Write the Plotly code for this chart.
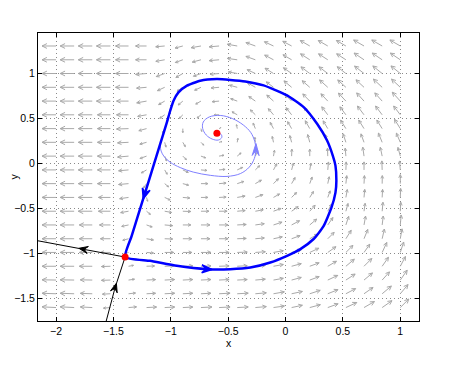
import math
import plotly.graph_objects as go

# ---------------- data ----------------
X_GRID = [-2.0, -1.842, -1.684, -1.526, -1.368, -1.211, -1.053, -0.895, -0.737, -0.579,
          -0.421, -0.263, -0.105, 0.053, 0.211, 0.368, 0.526, 0.684, 0.842, 1.0]
Y_GRID = [-1.6, -1.447, -1.295, -1.142, -0.989, -0.837, -0.684, -0.532, -0.379, -0.226,
          -0.074, 0.079, 0.232, 0.384, 0.537, 0.689, 0.842, 0.995, 1.147, 1.3]

# arrow directions (degrees as seen on the page), rows listed from top (y=1.3) to bottom (y=-1.6)
ANGLE_TOP_DOWN = [
    [180,180,180,180,180,180,185,195,190,185,170,160,155,152,150,150,150,150,150,150],
    [180,180,180,180,180,180,190,200,195,185,172,160,152,150,147,147,147,146,146,146],
    [180,180,180,180,180,185,200,210,200,185,170,155,148,145,143,143,142,142,141,141],
    [180,180,180,180,180,185,205,215,205,185,165,150,143,140,139,138,138,137,137,137],
    [180,180,180,180,180,190,210,220,210,185,160,145,138,135,134,133,133,132,132,132],
    [180,180,180,180,180,190,215,225,220,180,150,135,130,128,127,127,127,127,127,127],
    [180,180,180,180,182,195,245,270,285, 30,100,112,118,120,120,121,122,122,122,122],
    [180,180,180,180,183,195,285,300,315, 15, 80, 95,102,105,105,107,108,110,112,113],
    [180,180,180,180,185,200,290,315,340, 10, 40, 65, 80, 88, 90, 92, 95, 98,102,105],
    [180,180,180,180,185,210,300,335,355,  5, 25, 45, 62, 75, 80, 85, 88, 90, 92, 95],
    [180,180,180,180,185,235,320,345,  0,  5, 18, 30, 45, 60, 70, 78, 84, 87, 89, 90],
    [180,180,180,180,188,285,335,355,  0,  3, 10, 20, 30, 45, 58, 70, 80, 85, 87, 88],
    [180,180,180,180,190,320,350,358,  0,  0,  5, 10, 20, 35, 48, 62, 75, 82, 85, 87],
    [180,180,180,180,192,340,355,  0,  0,  0,  3,  8, 18, 28, 40, 55, 72, 80, 83, 85],
    [180,180,180,180,195,350,358,  0,  0,  0,  2,  5, 12, 20, 30, 45, 58, 68, 77, 80],
    [180,180,180,180,200,355,  0,  0,  0,  0,  2,  4, 10, 15, 25, 35, 45, 55, 65, 72],
    [180,180,180,182, 10,  2,  2,  2,  2,  2,  3,  5, 10, 15, 20, 30, 40, 45, 55, 62],
    [179,179,179,182,  8,  3,  3,  3,  3,  3,  3,  5, 10, 15, 20, 25, 33, 40, 48, 55],
    [178,178,178,183,  6,  3,  3,  3,  3,  3,  3,  5, 10, 12, 18, 22, 28, 35, 40, 50],
    [177,177,177,185,  5,  3,  3,  3,  3,  3,  3,  5,  8, 12, 15, 20, 25, 30, 35, 45],
]
# relative arrow magnitude, same layout
SPEED_TOP_DOWN = [
    [14,14,14,14,13,11, 9, 8,10,10,10,10,10,10,11,11,11,12,12,12],
    [14,14,14,14,13,11, 9, 8, 9,10,10,10,10,10,11,11,11,12,12,12],
    [14,14,14,14,13,11, 9, 8, 8, 9, 9, 9,10,10,11,11,11,12,12,12],
    [14,14,14,14,13,10, 8, 7, 7, 8, 8, 9, 9,10,10,11,11,11,12,12],
    [14,14,14,14,12,10, 7, 6, 6, 7, 7, 8, 9, 9,10,10,11,11,11,12],
    [14,14,14,13,12, 9, 6, 5, 5, 5, 6, 7, 8, 9, 9,10,10,11,11,11],
    [14,14,14,13,12, 8, 5, 4, 3, 2, 4, 6, 7, 8, 9, 9,10,10,10,11],
    [14,14,14,13,11, 7, 5, 5, 4, 3, 4, 5, 6, 7, 8, 8, 9, 9,10,10],
    [14,14,14,13,11, 7, 5, 5, 5, 5, 5, 6, 6, 7, 7, 8, 8, 9, 9, 9],
    [14,14,14,13,10, 6, 5, 6, 6, 6, 6, 6, 7, 7, 7, 8, 8, 8, 9, 9],
    [14,14,14,13,10, 5, 5, 6, 7, 7, 7, 7, 7, 7, 7, 7, 8, 8, 8, 9],
    [14,14,14,12, 9, 4, 6, 7, 7, 7, 8, 8, 7, 7, 7, 7, 8, 8, 8, 9],
    [14,14,14,12, 8, 5, 7, 8, 8, 8, 8, 8, 8, 8, 8, 8, 8, 8, 9, 9],
    [14,14,13,11, 7, 6, 8, 8, 9, 9, 9, 9, 9, 9, 9, 9, 9, 9, 9,10],
    [14,14,13,10, 6, 7, 8, 9, 9, 9, 9, 9, 9, 9, 9, 9,10,10,10,10],
    [14,14,13,10, 3, 7, 9, 9,10,10,10,10,10,10,10,10,10,10,11,11],
    [14,14,13, 9, 5, 8, 9,10,10,10,10,10,10,10,10,10,11,11,11,11],
    [14,14,12, 9, 6, 9,10,10,10,10,10,10,10,10,10,11,11,11,11,12],
    [14,14,12, 8, 7, 9,10,10,10,11,11,11,11,11,11,11,11,11,12,12],
    [14,14,12, 7, 8,10,10,10,11,11,11,11,11,11,11,11,12,12,12,12],
]

# thick blue orbit (leaves the saddle to the right, comes back from above)
ORBIT_X = [-1.398, -1.180, -0.947, -0.685, -0.482, -0.307, -0.133, 0.013, 0.129, 0.245,
           0.330, 0.400, 0.435, 0.443, 0.435, 0.413, 0.362, 0.275, 0.158, 0.013,
           -0.191, -0.351, -0.482, -0.598, -0.743, -0.859, -0.933, -0.976, -1.005, -1.034,
           -1.092, -1.166, -1.227, -1.288, -1.342, -1.398]
ORBIT_Y = [-1.040, -1.082, -1.137, -1.174, -1.174, -1.156, -1.100, -1.026, -0.952, -0.840,
           -0.700, -0.493, -0.326, -0.193, -0.026, 0.080, 0.252, 0.437, 0.622, 0.752,
           0.863, 0.907, 0.924, 0.933, 0.915, 0.860, 0.785, 0.693, 0.582, 0.452,
           0.214, -0.090, -0.340, -0.590, -0.810, -1.040]
ORBIT_ARROWS = [3, 32]

# light blue trajectory spiralling into the focus
SPIRAL_X = [-1.092, -1.084, -1.058, -1.005, -0.918, -0.804, -0.656, -0.510, -0.394, -0.316,
            -0.272, -0.259, -0.268, -0.303, -0.368, -0.464, -0.569, -0.665, -0.717, -0.722,
            -0.691, -0.639, -0.586, -0.556, -0.560, -0.586]
SPIRAL_Y = [0.196, 0.135, 0.074, 0.011, -0.048, -0.098, -0.134, -0.146, -0.115, -0.043,
            0.052, 0.152, 0.241, 0.341, 0.424, 0.496, 0.530, 0.513, 0.457, 0.385,
            0.313, 0.268, 0.257, 0.285, 0.318, 0.333]
SPIRAL_ARROWS = [11]

# saddle manifolds (black)
UNSTABLE_LEFT_X = [-1.398, -1.762, -2.157]
UNSTABLE_LEFT_Y = [-1.040, -0.952, -0.860]
STABLE_BELOW_X = [-1.564, -1.485, -1.398]
STABLE_BELOW_Y = [-1.756, -1.378, -1.040]
MANIFOLD_ARROWS = [1]

EQ_X = [-1.398, -0.598]
EQ_Y = [-1.040, 0.333]

X_TICKS = [-2, -1.5, -1, -0.5, 0, 0.5, 1]
X_TICK_TEXT = ["\u22122", "\u22121.5", "\u22121", "\u22120.5", "0", "0.5", "1"]
Y_TICKS = [-1.5, -1, -0.5, 0, 0.5, 1]
Y_TICK_TEXT = ["\u22121.5", "\u22121", "\u22120.5", "0", "0.5", "1"]

# ---------------- layout geometry ----------------
# the page adds an 8px body margin, so the figure is 8px smaller and margins shifted
W, H = 453, 362
ML, MR, MT, MB = 30, 42, 25, 49
X_RANGE = [-2.157, 1.163]
Y_RANGE = [-1.749, 1.444]
SX = (W - ML - MR) / (X_RANGE[1] - X_RANGE[0])   # px per x unit
SY = (H - MT - MB) / (Y_RANGE[1] - Y_RANGE[0])   # px per y unit

FONT = "Liberation Sans, Arial, Helvetica, sans-serif"

ANGLE = ANGLE_TOP_DOWN[::-1]
SPEED = SPEED_TOP_DOWN[::-1]


def offset(x, y, dx_px, dy_px):
    return x + dx_px / SX, y + dy_px / SY


# quiver
qx, qy = [], []
HEAD_FRAC, HEAD_W = 0.35, 0.17
for j, yv in enumerate(Y_GRID):
    for k, xv in enumerate(X_GRID):
        L = SPEED[j][k]
        th = math.radians(ANGLE[j][k])
        ux, uy = math.cos(th), math.sin(th)
        tx, ty = offset(xv, yv, L * ux, L * uy)
        hl, hw = HEAD_FRAC * L, HEAD_W * L
        b1 = offset(tx, ty, -ux * hl - uy * hw, -uy * hl + ux * hw)
        b2 = offset(tx, ty, -ux * hl + uy * hw, -uy * hl - ux * hw)
        qx += [xv, tx, None, b1[0], tx, b2[0], None]
        qy += [yv, ty, None, b1[1], ty, b2[1], None]


def arrow_heads(xs, ys, idxs, length, half_w):
    hx, hy = [], []
    for i in idxs:
        dxp = (xs[i + 1] - xs[i - 1]) * SX
        dyp = (ys[i + 1] - ys[i - 1]) * SY
        n = math.hypot(dxp, dyp)
        ux, uy = dxp / n, dyp / n
        tip = offset(xs[i], ys[i], ux * length * 0.5, uy * length * 0.5)
        p1 = offset(tip[0], tip[1], -ux * length - uy * half_w, -uy * length + ux * half_w)
        p2 = offset(tip[0], tip[1], -ux * length * 0.6, -uy * length * 0.6)
        p3 = offset(tip[0], tip[1], -ux * length + uy * half_w, -uy * length - ux * half_w)
        hx += [tip[0], p1[0], p2[0], p3[0], tip[0], None]
        hy += [tip[1], p1[1], p2[1], p3[1], tip[1], None]
    return hx, hy


fig = go.Figure()
fig.add_trace(go.Scatter(x=qx, y=qy, mode="lines", line=dict(color="#a9a9a9", width=1),
                         hoverinfo="skip", showlegend=False))

for xs, ys in [(UNSTABLE_LEFT_X, UNSTABLE_LEFT_Y), (STABLE_BELOW_X, STABLE_BELOW_Y)]:
    fig.add_trace(go.Scatter(x=xs, y=ys, mode="lines", line=dict(color="black", width=1),
                             showlegend=False))
    hx, hy = arrow_heads(xs, ys, MANIFOLD_ARROWS, 9, 3.5)
    fig.add_trace(go.Scatter(x=hx, y=hy, mode="lines", fill="toself", fillcolor="black",
                             line=dict(color="black", width=1), showlegend=False))

fig.add_trace(go.Scatter(x=SPIRAL_X, y=SPIRAL_Y, mode="lines", line=dict(color="#8080ff", width=1),
                         line_shape="spline", showlegend=False))
hx, hy = arrow_heads(SPIRAL_X, SPIRAL_Y, SPIRAL_ARROWS, 12, 3.5)
fig.add_trace(go.Scatter(x=hx, y=hy, mode="lines", fill="toself", fillcolor="#8080ff",
                         line=dict(color="#8080ff", width=1), showlegend=False))

fig.add_trace(go.Scatter(x=ORBIT_X, y=ORBIT_Y, mode="lines", line=dict(color="#0000ff", width=2.5),
                         line_shape="spline", line_smoothing=0.5, showlegend=False))
hx, hy = arrow_heads(ORBIT_X, ORBIT_Y, ORBIT_ARROWS, 10, 4)
fig.add_trace(go.Scatter(x=hx, y=hy, mode="lines", fill="toself", fillcolor="#0000ff",
                         line=dict(color="#0000ff", width=1.5), showlegend=False))

fig.add_trace(go.Scatter(x=EQ_X, y=EQ_Y, mode="markers",
                         marker=dict(color="#ff0000", size=7, line=dict(width=0)), showlegend=False))

axis_common = dict(showgrid=True, gridcolor="#8a8a8a", gridwidth=1, griddash="1px,3px",
                   zeroline=False, showline=True, linecolor="black", linewidth=1,
                   mirror="ticks", ticks="inside", ticklen=4, tickcolor="black",
                   tickfont=dict(family=FONT, size=10.5, color="black"))

fig.update_layout(
    width=W, height=H, margin=dict(l=ML, r=MR, t=MT, b=MB, autoexpand=False),
    paper_bgcolor="white", plot_bgcolor="white",
    font=dict(family=FONT, size=10.5, color="black"),
    xaxis=dict(range=X_RANGE, tickvals=X_TICKS, ticktext=X_TICK_TEXT,
               title=dict(text="x", standoff=2, font=dict(family=FONT, size=10.5)), **axis_common),
    yaxis=dict(range=Y_RANGE, tickvals=Y_TICKS, ticktext=Y_TICK_TEXT,
               title=dict(text="y", standoff=13, font=dict(family=FONT, size=10.5)), **axis_common),
)

fig.write_html("out.html")
